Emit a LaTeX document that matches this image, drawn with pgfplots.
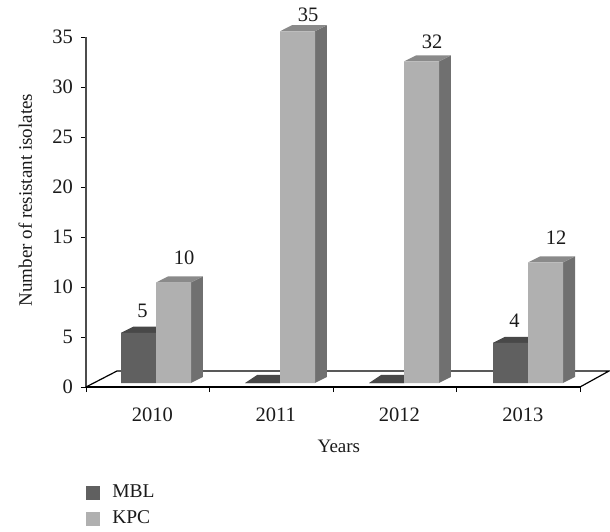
\documentclass[border=0pt]{standalone}
\usepackage{fontspec}
\setmainfont{Liberation Serif}
\usepackage{pgfplots}
\pgfplotsset{compat=1.18}
\definecolor{mblfront}{HTML}{606060}
\definecolor{mbltop}{HTML}{484848}
\definecolor{kpcfront}{HTML}{B0B0B0}
\definecolor{kpctop}{HTML}{8A8A8A}
\definecolor{kpcside}{HTML}{707070}
\definecolor{txt}{HTML}{1A1A1A}
\begin{document}
\fontsize{19}{22}\selectfont
\begin{tikzpicture}[x=1pt,y=1pt,every node/.style={text=txt,font=\fontsize{19}{22}\selectfont}]
\path[use as bounding box] (0,0) rectangle (610,531);
% main axis
\begin{axis}[
  at={(86pt,144pt)}, anchor=south west, scale only axis,
  width=494pt, height=350pt,
  xmin=0, xmax=4, ymin=0, ymax=35,
  axis x line=bottom, axis y line=left,
  axis line style={-,line width=1.2pt},
  y axis line style={draw=black!70},
  clip=false,
  xtick={0,1,2,3,4}, x tick label as interval,
  xticklabels={2010,2011,2012,2013},
  ytick={0,5,10,15,20,25,30,35},
  tick align=outside, major tick length=5pt,
  tick style={black,line width=0.9pt},
  /pgf/number format/assume math mode=true,
  x tick label style={yshift=-9pt,xshift=4.5pt,font=\fontsize{20.5}{24}\selectfont},
  y tick label style={xshift=-1.5pt,font=\fontsize{20.5}{24}\selectfont},
  xlabel={Years}, ylabel={Number of resistant isolates},
  xlabel style={font=\fontsize{20}{24}\selectfont},
  ylabel style={font=\fontsize{18.6}{22}\selectfont},
  every axis x label/.style={at={(axis description cs:0.512,-0.169)},anchor=center},
  every axis y label/.style={at={(axis description cs:-0.123,0.534)},rotate=90,anchor=center},
]
\addplot[black,line width=1.2pt] coordinates {(0,0) (0.251,1.6) (4.235,1.6) (4,0)};
\end{axis}
% bars, on the floor of the 3D box
\begin{axis}[
  at={(94pt,148pt)}, anchor=south west, scale only axis,
  width=496pt, height=351.75pt,
  xmin=0, xmax=4, ymin=0, ymax=35,
  axis lines=none, clip=false,
  /pgf/number format/assume math mode=true,
  legend style={at={(axis description cs:-0.016,-0.29)},anchor=north west,draw=none,fill=none,
    inner sep=0pt,row sep=10pt,legend cell align=left,
    nodes={inner sep=0pt,font=\fontsize{19.5}{22}\selectfont}},
  legend image code/.code={\fill[#1] (0pt,-7pt) rectangle (14pt,7pt);\path[draw=none,fill=none,use as bounding box] (0pt,-7pt) rectangle (26pt,7pt);},
  nodes near coords={\pgfmathfloatifflags{\pgfplotspointmeta}{0}{}{\pgfmathprintnumber{\pgfplotspointmeta}}},
  nodes near coords align={above},
  every node near coord/.append style={inner sep=0pt,font=\fontsize{20.5}{24}\selectfont},
]
% MBL top faces
\addplot[fill=mbltop,draw=none,forget plot,nodes near coords=] coordinates {(0.218,5) (0.5,5) (0.597,5.6) (0.315,5.6)} --cycle;
\addplot[fill=mbltop,draw=none,forget plot,nodes near coords=] coordinates {(1.218,0) (1.5,0) (1.5,0.8) (1.315,0.8)} --cycle;
\addplot[fill=mbltop,draw=none,forget plot,nodes near coords=] coordinates {(2.218,0) (2.5,0) (2.5,0.8) (2.315,0.8)} --cycle;
\addplot[fill=mbltop,draw=none,forget plot,nodes near coords=] coordinates {(3.218,4) (3.5,4) (3.597,4.6) (3.315,4.6)} --cycle;
% KPC side faces
\addplot[fill=kpcside,draw=none,forget plot,nodes near coords=] coordinates {(0.782,0) (0.879,0.6) (0.879,10.6) (0.782,10)} --cycle;
\addplot[fill=kpcside,draw=none,forget plot,nodes near coords=] coordinates {(1.782,0) (1.879,0.6) (1.879,35.6) (1.782,35)} --cycle;
\addplot[fill=kpcside,draw=none,forget plot,nodes near coords=] coordinates {(2.782,0) (2.879,0.6) (2.879,32.6) (2.782,32)} --cycle;
\addplot[fill=kpcside,draw=none,forget plot,nodes near coords=] coordinates {(3.782,0) (3.879,0.6) (3.879,12.6) (3.782,12)} --cycle;
% KPC top faces
\addplot[fill=kpctop,draw=none,forget plot,nodes near coords=] coordinates {(0.5,10) (0.782,10) (0.879,10.6) (0.597,10.6)} --cycle;
\addplot[fill=kpctop,draw=none,forget plot,nodes near coords=] coordinates {(1.5,35) (1.782,35) (1.879,35.6) (1.597,35.6)} --cycle;
\addplot[fill=kpctop,draw=none,forget plot,nodes near coords=] coordinates {(2.5,32) (2.782,32) (2.879,32.6) (2.597,32.6)} --cycle;
\addplot[fill=kpctop,draw=none,forget plot,nodes near coords=] coordinates {(3.5,12) (3.782,12) (3.879,12.6) (3.597,12.6)} --cycle;
% front faces
\addplot[ybar,bar width=35pt,bar shift=-17.5pt,fill=mblfront,draw=none,
  every node near coord/.append style={xshift=-13.5pt,yshift=15pt}]
  coordinates {(0.5,5) (1.5,0) (2.5,0) (3.5,4)};
\addlegendentry{MBL}
\addplot[ybar,bar width=35pt,bar shift=17.5pt,fill=kpcfront,draw=none,
  every node near coord/.append style={xshift=28pt,yshift=18pt},
  coordinate style/.condition={y>34}{yshift=-9pt},
  coordinate style/.condition={y>31 && y<34}{yshift=-5pt}]
  coordinates {(0.5,10) (1.5,35) (2.5,32) (3.5,12)};
\addlegendentry{KPC}
\end{axis}
\end{tikzpicture}
\end{document}
